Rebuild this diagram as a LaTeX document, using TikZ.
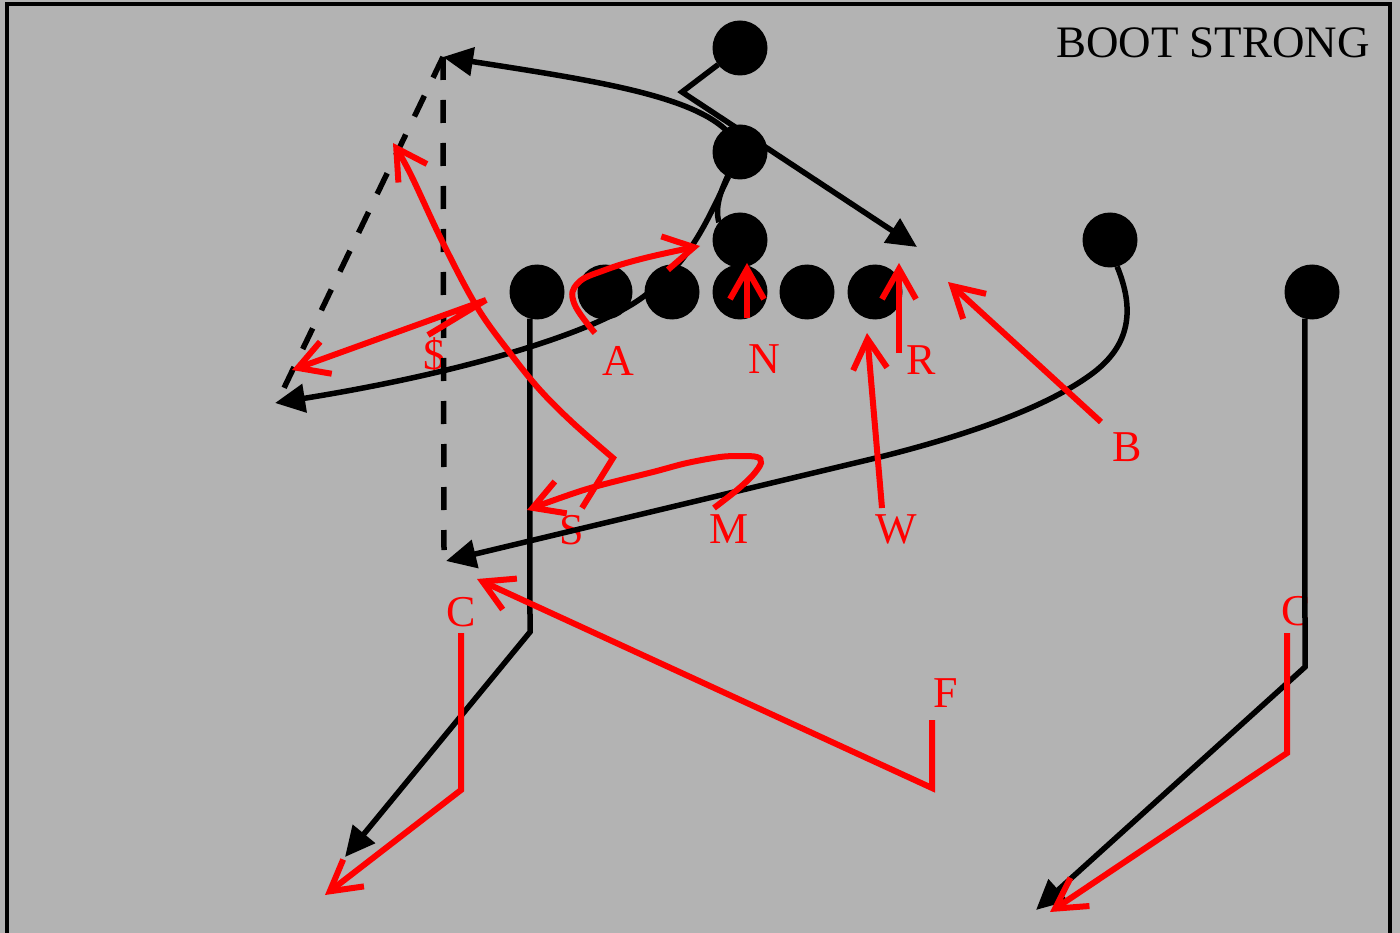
\documentclass[tikz,border=0pt]{standalone}
\usepackage{fontspec}
\setmainfont{Liberation Serif}
\usetikzlibrary{arrows.meta}
\definecolor{field}{RGB}{179,179,179}
\definecolor{dred}{RGB}{255,0,0}
\pgfdeclarelayer{fieldlayer}
\pgfdeclarelayer{routelayer}
\pgfsetlayers{fieldlayer,routelayer,main}
\begin{document}
\begin{tikzpicture}[x=1pt,y=-1pt,
  player/.style={circle,fill=black,draw=none,minimum size=55pt,inner sep=0pt,outer sep=0pt},
  offroute/.style={line width=5.5pt,draw=black,-{Triangle[length=30pt,width=28pt]}},
  optroute/.style={line width=5.5pt,draw=black,dash pattern=on 23pt off 20pt},
  defroute/.style={line width=6pt,draw=dred,-{Straight Barb[length=30pt,width=34pt]}},
  deflabel/.style={text=dred,font=\fontsize{44}{44}\selectfont,anchor=base,inner sep=0pt},
  playtitle/.style={text=black,font=\fontsize{45}{45}\selectfont,anchor=base west,inner sep=0pt}
]
\useasboundingbox (0,0) rectangle (1400,933);
\begin{pgfonlayer}{fieldlayer}
\fill[field] (0,0) rectangle (1400,933);
\draw[line width=4.5pt] (7,950) -- (7,4) -- (1390,4) -- (1390,950);
\end{pgfonlayer}

% players
\node[player] (TB) at (740,48) {};
\node[player] (FB) at (740,152) {};
\node[player] (QB) at (740,240) {};
\node[player] (L1) at (537,292) {};
\node[player] (L2) at (605,292) {};
\node[player] (L3) at (672,292) {};
\node[player] (CN) at (740,292) {};
\node[player] (L5) at (807,292) {};
\node[player] (L6) at (875,292) {};
\node[player] (WB) at (1110,240) {};
\node[player] (SE) at (1312,292) {};

% offensive coordinates
\coordinate (tbBreak) at (682,92);
\coordinate (tbEnd) at (917,247);
\coordinate (qbEnd) at (443,57);
\coordinate (fbBend) at (643,297);
\coordinate (fbEnd) at (275,403);
\coordinate (wbBend) at (1093,373);
\coordinate (wbStraight) at (880,457);
\coordinate (wbEnd) at (446,561);
\coordinate (teBreak) at (530,632);
\coordinate (teEnd) at (345,857);
\coordinate (seBreak) at (1305,667);
\coordinate (seEnd) at (1036,910);
\coordinate (dashV) at (444,550);
\coordinate (dashD) at (284,388);

\begin{pgfonlayer}{routelayer}
% title and labels
\node[playtitle] (ttl) at (1056,58) {BOOT STRONG};
\node[deflabel] (lbF) at (434,369) {\$};
\node[deflabel] (lbA) at (618,375) {A};
\node[deflabel] (lbN) at (764,373) {N};
\node[deflabel] (lbR) at (921,374) {R};
\node[deflabel] (lbB) at (1127,461) {B};
\node[deflabel] (lbS) at (572,544) {S};
\node[deflabel] (lbM) at (729,543) {M};
\node[deflabel] (lbW) at (896,543) {W};
\node[deflabel] (lbCl) at (461,626) {C};
\node[deflabel] (lbCr) at (1296,625) {C};
\node[deflabel] (lbFs) at (946,707) {F};
% offensive routes
\draw[optroute] (qbEnd) -- (dashV);
\draw[optroute] (qbEnd) -- (dashD);
\draw[offroute] (TB) -- (tbBreak) -- (tbEnd);
\draw[offroute] (QB.140) .. controls (714,205) and (722,185) .. (FB.center)
   .. controls (725,100) and (610,83) .. (qbEnd);
\draw[offroute] (FB.245) .. controls (705,225) and (690,262) .. (fbBend)
   .. controls (590,336) and (450,375) .. (fbEnd);
\draw[offroute] (WB.285) .. controls (1135,310) and (1130,345) .. (wbBend)
   .. controls (1045,409) and (960,437) .. (wbStraight) -- (wbEnd);
\draw[offroute] (L1.255) -- (teBreak) -- (teEnd);
\draw[offroute] (SE.255) -- (seBreak) -- (seEnd);
\end{pgfonlayer}

% defensive coordinates
\coordinate (fsStart) at (428,335);
\coordinate (fsTurn) at (486,300);
\coordinate (fsEnd) at (292,370);
\coordinate (ssStart) at (582,508);
\coordinate (nStart) at (747,318);
\coordinate (nEnd) at (747,263);
\coordinate (rStart) at (899,353);
\coordinate (rEnd) at (899,263);
\coordinate (wStart) at (882,508);
\coordinate (wEnd) at (867,333);
\coordinate (bStart) at (1101,422);
\coordinate (bEnd) at (948,282);
\coordinate (fStart) at (932,720);
\coordinate (fTurn) at (932,788);
\coordinate (fEnd) at (477,579);
\coordinate (clStart) at (461,633);
\coordinate (clTurn) at (461,790);
\coordinate (clEnd) at (325,895);
\coordinate (crStart) at (1287,633);
\coordinate (crTurn) at (1287,753);
\coordinate (crEnd) at (1050,912);

% defensive routes
\draw[defroute] (fsStart) -- (fsTurn) -- (fsEnd);
\draw[defroute] (ssStart) -- plot[smooth,tension=0.6] coordinates {(613,458) (573,423) (540,390) (510,353) (477,307) (443,243) (410,173) (393,143)};
\draw[defroute] plot[smooth,tension=0.7] coordinates {(595,333) (574,303) (578,283) (605,270) (645,258) (700,246)};
\draw[defroute] plot[smooth,tension=0.55] coordinates {(714,508) (737,490) (753,475) (761,463) (757,457) (740,456) (720,457) (687,463) (653,472) (587,489) (527,510)};
\draw[defroute] (nStart) -- (nEnd);
\draw[defroute] (rStart) -- (rEnd);
\draw[defroute] (wStart) -- (wEnd);
\draw[defroute] (bStart) -- (bEnd);
\draw[defroute] (fStart) -- (fTurn) -- (fEnd);
\draw[defroute] (clStart) -- (clTurn) -- (clEnd);
\draw[defroute] (crStart) -- (crTurn) -- (crEnd);
\end{tikzpicture}
\end{document}
